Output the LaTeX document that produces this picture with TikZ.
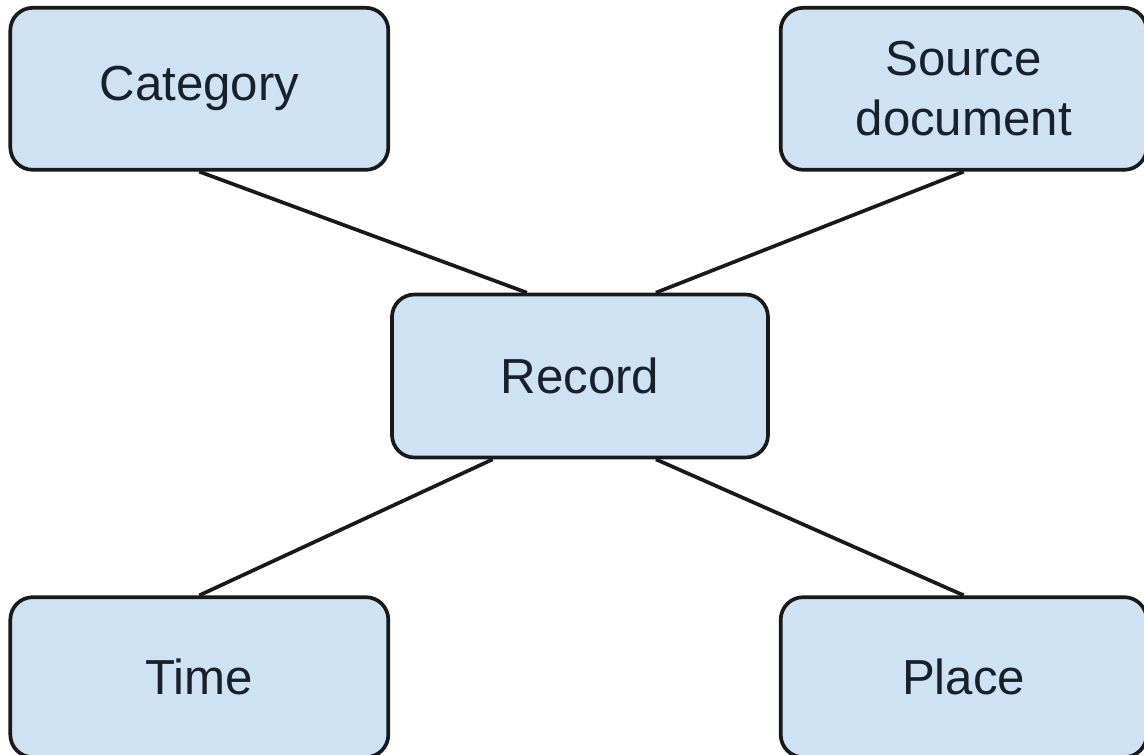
\documentclass[tikz,border=0pt]{standalone}
\usepackage{fontspec}
\setmainfont{Liberation Sans}
\usepackage{xcolor}
\usetikzlibrary{positioning, calc}

\definecolor{boxfill}{HTML}{CFE2F3}
\definecolor{boxtext}{HTML}{18202B}

\begin{document}
\begin{tikzpicture}[
    every node/.style={
        draw=black!90,
        fill=boxfill,
        rectangle,
        rounded corners=0.45cm,
        line width=2.1pt,
        text=boxtext,
        align=center,
        font=\fontsize{28}{34}\selectfont
    },
    wide/.style={minimum width=7.56cm},
    narrow/.style={minimum width=7.32cm},
    link/.style={line width=2.1pt, black!90}
]

\useasboundingbox (0,0) rectangle (22.88,-15.1);

% Central record
\node[minimum width=7.52cm, minimum height=3.26cm] (rec) at (11.6,-7.52) {Record};

% Top row
\node[wide, minimum height=3.24cm, above left=2.42cm and 0cm of rec] (cat) {Category};
\node[narrow, minimum height=3.24cm, above right=2.42cm and 0.18cm of rec] (src) {Source\\document};

% Bottom row
\node[wide, minimum height=3.2cm, below left=2.72cm and 0cm of rec] (time) {Time};
\node[narrow, minimum height=3.2cm, below right=2.72cm and 0.18cm of rec] (place) {Place};

% Links
\draw[link] (cat.south) -- ($(rec.north west)!0.36!(rec.north east)$);
\draw[link] (src.south) -- ($(rec.north west)!0.70!(rec.north east)$);
\draw[link] (time.north) -- ($(rec.south west)!0.27!(rec.south east)$);
\draw[link] (place.north) -- ($(rec.south west)!0.70!(rec.south east)$);

\end{tikzpicture}
\end{document}
